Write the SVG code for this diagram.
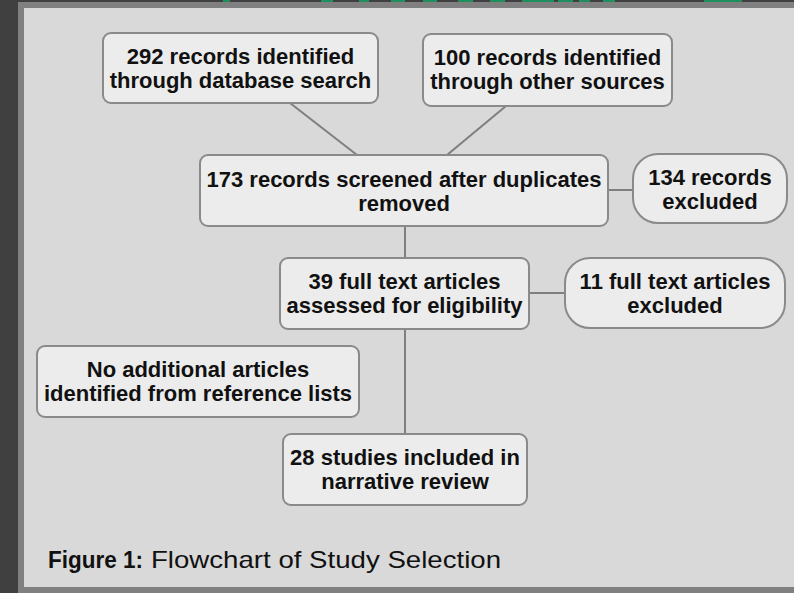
<svg xmlns="http://www.w3.org/2000/svg" width="794" height="593" viewBox="0 0 794 593">
  <style>
    .box { fill: #ececec; stroke: #8a8a8a; stroke-width: 2; }
    .lbl { font-family: "Liberation Sans", Arial, sans-serif; font-weight: bold; font-size: 22px; fill: #111111; text-anchor: middle; }
    .con { stroke: #7f7f7f; stroke-width: 2; fill: none; }
    .cap { font-family: "Liberation Sans", Arial, sans-serif; font-size: 24px; fill: #111111; }
    .grn { fill: #1f8f5f; }
  </style>
  <!-- frame -->
  <rect x="0" y="0" width="794" height="593" fill="#404040"/>
  <g id="topfragments">
    <rect class="grn" x="223" y="0" width="7" height="2"/>
    <rect class="grn" x="321" y="0" width="12" height="2"/>
    <rect class="grn" x="359" y="0" width="10" height="2"/>
    <rect class="grn" x="391" y="0" width="14" height="2"/>
    <rect class="grn" x="423" y="0" width="14" height="2"/>
    <rect class="grn" x="458" y="0" width="15" height="2"/>
    <rect class="grn" x="490" y="0" width="15" height="2"/>
    <rect class="grn" x="522" y="0" width="32" height="2"/>
    <rect class="grn" x="558" y="0" width="15" height="2"/>
    <rect class="grn" x="579" y="0" width="11" height="2"/>
    <rect class="grn" x="603" y="0" width="12" height="2"/>
    <rect class="grn" x="704" y="0" width="38" height="2"/>
  </g>
  <rect x="18" y="2" width="776" height="591" fill="#808080"/>
  <rect x="24" y="8" width="770" height="579" fill="#d9d9d9"/>

  <g id="connectors">
    <line class="con" x1="290" y1="103" x2="357" y2="155"/>
    <line class="con" x1="506" y1="106" x2="447" y2="155"/>
    <line class="con" x1="608" y1="190" x2="633" y2="190"/>
    <line class="con" x1="405" y1="226" x2="405" y2="258"/>
    <line class="con" x1="529" y1="293" x2="565" y2="293"/>
    <line class="con" x1="405" y1="329" x2="405" y2="434"/>
  </g>

  <g id="n1">
    <rect class="box" x="103" y="33" width="275" height="70" rx="8"/>
    <text class="lbl" x="240.5" y="64">292 records identified</text>
    <text class="lbl" x="240.5" y="88">through database search</text>
  </g>
  <g id="n2">
    <rect class="box" x="423" y="34" width="249" height="72" rx="8"/>
    <text class="lbl" x="547.5" y="65">100 records identified</text>
    <text class="lbl" x="547.5" y="89">through other sources</text>
  </g>
  <g id="n3">
    <rect class="box" x="200" y="155" width="408" height="71" rx="8"/>
    <text class="lbl" x="404" y="187">173 records screened after duplicates</text>
    <text class="lbl" x="404" y="211">removed</text>
  </g>
  <g id="n4">
    <rect class="box" x="633" y="154" width="154" height="69" rx="25"/>
    <text class="lbl" x="710" y="185">134 records</text>
    <text class="lbl" x="710" y="209">excluded</text>
  </g>
  <g id="n5">
    <rect class="box" x="280" y="258" width="249" height="71" rx="8"/>
    <text class="lbl" x="404.5" y="289">39 full text articles</text>
    <text class="lbl" x="404.5" y="313">assessed for eligibility</text>
  </g>
  <g id="n6">
    <rect class="box" x="565" y="258" width="220" height="70" rx="25"/>
    <text class="lbl" x="675" y="289">11 full text articles</text>
    <text class="lbl" x="675" y="313">excluded</text>
  </g>
  <g id="n7">
    <rect class="box" x="37" y="346" width="322" height="71" rx="8"/>
    <text class="lbl" x="198" y="377">No additional articles</text>
    <text class="lbl" x="198" y="401">identified from reference lists</text>
  </g>
  <g id="n8">
    <rect class="box" x="283" y="434" width="244" height="71" rx="8"/>
    <text class="lbl" x="405" y="465">28 studies included in</text>
    <text class="lbl" x="405" y="489">narrative review</text>
  </g>

  <g id="caption">
    <text class="cap" x="48" y="568" font-weight="bold" textLength="95" lengthAdjust="spacingAndGlyphs">Figure 1:</text>
    <text class="cap" x="151" y="568" textLength="350" lengthAdjust="spacingAndGlyphs">Flowchart of Study Selection</text>
  </g>
</svg>
